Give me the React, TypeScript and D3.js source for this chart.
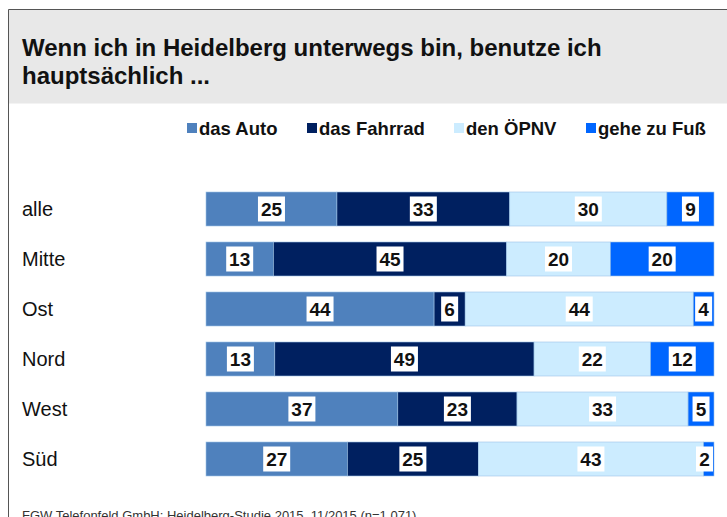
import React from "react";
import * as d3 from "d3";

const categories = ["alle", "Mitte", "Ost", "Nord", "West", "Süd"];
const seriesNames = ["das Auto", "das Fahrrad", "den ÖPNV", "gehe zu Fuß"];
const auto = [25, 13, 44, 13, 37, 27];
const fahrrad = [33, 45, 6, 49, 23, 25];
const oepnv = [30, 20, 44, 22, 33, 43];
const fuss = [9, 20, 4, 12, 5, 2];
const colors = ["#4F81BD", "#002060", "#CCECFF", "#0066FF"];
const title = ["Wenn ich in Heidelberg unterwegs bin, benutze ich", "hauptsächlich ..."];
const source = "FGW Telefonfeld GmbH: Heidelberg-Studie 2015, 11/2015 (n=1.071)";

const W = 727;
const H = 517;
const FONT = "'Liberation Sans', Arial, sans-serif";

export default function App() {
  const series = [auto, fahrrad, oepnv, fuss];
  const x = d3.scaleLinear().domain([0, 1]).range([206, 714]);
  const y = d3.scaleBand().domain(categories).range([184, 484]).paddingInner(0.32).paddingOuter(0.16);
  const legendX = [187, 307, 454, 586];

  return (
    <svg width={W} height={H} style={{ position: "absolute", left: 0, top: 0 }} fontFamily={FONT}>
      <rect x={0} y={0} width={W} height={H} fill="#fff" />
      <rect x={8.5} y={9.5} width={W} height={94} fill="#E8E8E8" />
      <line x1={8.5} y1={9.5} x2={W} y2={9.5} stroke="#555" strokeWidth={1} />
      <line x1={8.5} y1={9.5} x2={8.5} y2={H} stroke="#555" strokeWidth={1} />
      {title.map((t, i) => (
        <text key={i} x={22} y={56 + i * 28} fontSize={24} fontWeight="bold" fill="#111">
          {t}
        </text>
      ))}
      {seriesNames.map((n, i) => (
        <g key={n}>
          <rect x={legendX[i]} y={123} width={10} height={10} fill={colors[i]} />
          <text x={legendX[i] + 12} y={135} fontSize={18.5} fontWeight="bold" fill="#111">
            {n}
          </text>
        </g>
      ))}
      {categories.map((c, ci) => {
        const vals = series.map((s) => s[ci]);
        const total = d3.sum(vals);
        const y0 = y(c)!;
        const bh = y.bandwidth();
        let cum = 0;
        const segs = vals.map((v, si) => {
          const s = { x0: x(cum / total), x1: x((cum + v) / total), v, si };
          cum += v;
          return s;
        });
        return (
          <g key={c}>
            <text x={22} y={y0 + bh / 2 + 7} fontSize={20} fill="#111">
              {c}
            </text>
            {segs.map((s) => (
              <rect
                key={s.si}
                x={s.x0}
                y={y0}
                width={s.x1 - s.x0}
                height={bh}
                fill={colors[s.si]}
                stroke="#9DC3E6"
                strokeWidth={0.6}
              />
            ))}
            {segs.map((s) => {
              const label = String(s.v);
              const bw = label.length === 1 ? 17 : 27;
              const cx = Math.min((s.x0 + s.x1) / 2, x.range()[1] - bw / 2 - 1);
              return (
                <g key={"l" + s.si}>
                  <rect x={cx - bw / 2} y={y0 + bh / 2 - 12.5} width={bw} height={25} fill="#fff" />
                  <text x={cx} y={y0 + bh / 2 + 7} textAnchor="middle" fontSize={19} fontWeight="bold" fill="#111">
                    {label}
                  </text>
                </g>
              );
            })}
          </g>
        );
      })}
      <text x={22} y={520} fontSize={13} fill="#333">
        {source}
      </text>
    </svg>
  );
}
